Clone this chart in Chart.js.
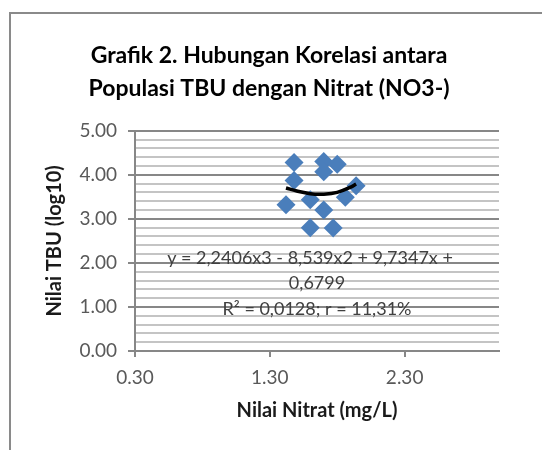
<!DOCTYPE html>
<html>
<head>
<meta charset="utf-8">
<script src="https://cdn.jsdelivr.net/npm/chart.js@4/dist/chart.umd.min.js"></script>
<style>
  html, body { margin: 0; padding: 0; background: #fff; }
  #frame { position: absolute; left: 9px; top: 12px; width: 560px; height: 470px;
           border-left: 2px solid #8a8a8a; border-top: 2px solid #8a8a8a; }
  #wrap { position: absolute; left: 0; top: 0; width: 542px; height: 450px; }
</style>
</head>
<body>
<div id="frame"></div>
<div id="wrap"><canvas id="grafik" width="542" height="450"></canvas></div>
<script>
// Data nitrat (x) dan log10 TBU (y)
const nitrat = [1.48, 1.48, 1.42, 1.60, 1.60, 1.70, 1.70, 1.80, 1.70, 1.77, 1.86, 1.94];
const tbu    = [4.28, 3.87, 3.32, 3.43, 2.80, 4.30, 4.07, 4.24, 3.20, 2.79, 3.49, 3.75];

// Garis tren polinomial (orde 3), titik dibaca dari kurva
const trenX = [1.42, 1.50, 1.60, 1.70, 1.80, 1.90, 1.94];
const trenY = [3.70, 3.63, 3.57, 3.56, 3.60, 3.72, 3.79];

const xTicks = [0.30, 1.30, 2.30];
const yMin = 0, yMax = 5;

const persamaan = [
    'y = 2,2406x3 - 8,539x2 + 9,7347x +',
    '0,6799',
    'R\u00B2 = 0,0128; r = 11,31%'
];

const FONT = "Lato, 'Open Sans', sans-serif";

function isMajor(v) {
    return Math.abs(v - Math.round(v)) < 1e-6;
}

// Teks persamaan tren di tengah plot
const labelTren = {
    id: 'labelTren',
    afterDatasetsDraw(chart) {
        const { ctx, chartArea } = chart;
        const cx = (chartArea.left + chartArea.right) / 2;
        ctx.save();
        ctx.fillStyle = '#404040';
        ctx.font = '18px ' + FONT;
        ctx.textAlign = 'center';
        ctx.textBaseline = 'middle';
        const ys = [258, 283, 309];
        persamaan.forEach((t, i) => ctx.fillText(t, i === 0 ? cx - 7 : cx, ys[i]));
        ctx.restore();
    }
};

function desenharGrafik() {
    const ctx = document.getElementById('grafik').getContext('2d');
    new Chart(ctx, {
        type: 'scatter',
        data: {
            datasets: [
                {
                    label: 'Tren',
                    data: trenX.map((x, i) => ({ x: x, y: trenY[i] })),
                    showLine: true,
                    borderColor: '#000000',
                    borderWidth: 3.5,
                    pointRadius: 0,
                    tension: 0.4,
                    order: 0
                },
                {
                    label: 'TBU',
                    data: nitrat.map((x, i) => ({ x: x, y: tbu[i] })),
                    pointStyle: 'rectRot',
                    pointRadius: 9.5,
                    backgroundColor: '#4a7ebb',
                    borderColor: '#4a7ebb',
                    borderWidth: 0,
                    order: 1
                }
            ]
        },
        options: {
            responsive: false,
            animation: false,
            layout: { padding: { left: 39, right: 43, top: 0, bottom: 0 } },
            plugins: {
                legend: { display: false },
                tooltip: { enabled: false },
                title: {
                    display: true,
                    text: ['Grafik 2. Hubungan Korelasi antara', 'Populasi TBU dengan Nitrat (NO3-)'],
                    color: '#000000',
                    font: { family: FONT, size: 23, weight: 'bold', lineHeight: 1.45 },
                    padding: { top: 39, bottom: 25 }
                }
            },
            scales: {
                x: {
                    type: 'linear',
                    min: 0.30,
                    max: 3.0,
                    afterBuildTicks: (s) => { s.ticks = xTicks.map(v => ({ value: v })); },
                    afterFit: (s) => { s.height = 99; },
                    ticks: {
                        color: '#595959',
                        font: { family: FONT, size: 19 },
                        padding: 9,
                        callback: (v) => Number(v).toFixed(2)
                    },
                    grid: { drawOnChartArea: false, drawTicks: true, tickLength: 6, color: '#878787', lineWidth: 2 },
                    border: { color: '#878787', width: 2 },
                    title: {
                        display: true,
                        text: 'Nilai Nitrat (mg/L)',
                        color: '#1a1a1a',
                        font: { family: FONT, size: 20, weight: 'bold' },
                        padding: { top: 0, bottom: 27 }
                    }
                },
                y: {
                    min: yMin,
                    max: yMax,
                    afterFit: (s) => { s.width = 96; },
                    ticks: {
                        stepSize: 0.2,
                        autoSkip: false,
                        color: '#595959',
                        font: { family: FONT, size: 19 },
                        padding: 11,
                        callback: (v) => isMajor(v) ? Number(v).toFixed(2) : ''
                    },
                    grid: {
                        color: (c) => isMajor(c.tick.value) ? '#878787' : '#c4c4c4',
                        tickColor: (c) => isMajor(c.tick.value) ? '#878787' : 'rgba(0,0,0,0)',
                        lineWidth: 2,
                        tickLength: 7
                    },
                    border: { color: '#878787', width: 2 },
                    title: {
                        display: true,
                        text: 'Nilai TBU (log10)',
                        color: '#1a1a1a',
                        font: { family: FONT, size: 20, weight: 'bold' },
                        padding: { top: 4 }
                    }
                }
            }
        },
        plugins: [labelTren]
    });
}

document.addEventListener('DOMContentLoaded', () => {
    desenharGrafik();
});
</script>
</body>
</html>
